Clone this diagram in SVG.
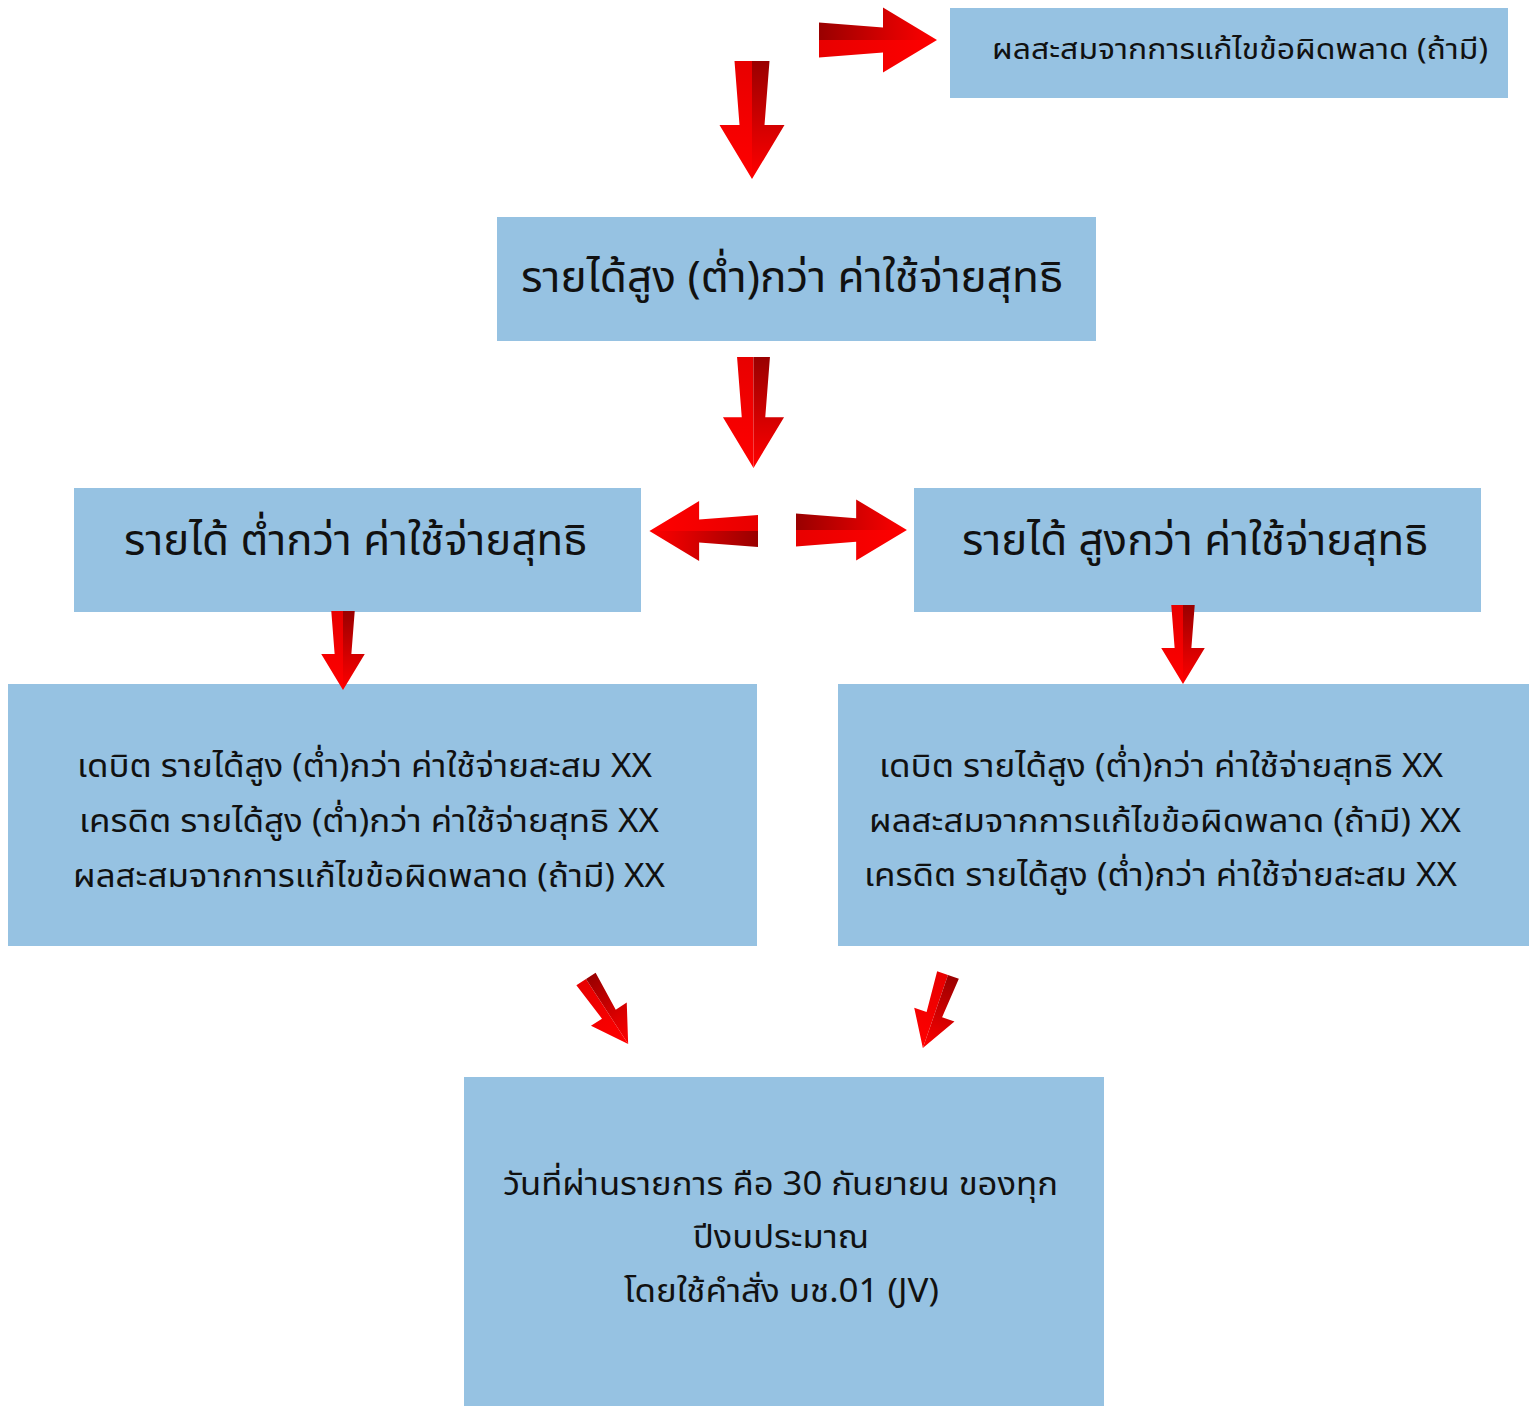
<svg xmlns="http://www.w3.org/2000/svg" xmlns:xlink="http://www.w3.org/1999/xlink" width="1532" height="1406" viewBox="0 0 1532 1406">
<style>
.box{fill:#96c2e2;}
.t{font-family:"Noto Sans Thai","Noto Sans","DejaVu Sans",sans-serif;fill:#111111;text-anchor:middle;}
.s27{font-size:29px;}
.s30{font-size:32px;}
.s40{font-size:43px;}
</style>
<defs>
<linearGradient id="dark" x1="0" y1="0" x2="0" y2="1">
<stop offset="0" stop-color="#990000"/>
<stop offset="0.6" stop-color="#d80000"/>
<stop offset="1" stop-color="#ff0000"/>
</linearGradient>
<linearGradient id="bright" x1="0" y1="0" x2="0" y2="1">
<stop offset="0" stop-color="#e80000"/>
<stop offset="1" stop-color="#ff0000"/>
</linearGradient>
<g id="arrow">
<polygon points="-17.5,0 0,0 0,118 -32.5,64 -12.5,64" fill="url(#bright)"/>
<polygon points="0,0 17.5,0 12.5,64 32.5,64 0,118" fill="url(#dark)"/>
</g>
</defs>
<rect width="1532" height="1406" fill="#ffffff"/>
<g id="node-top">
<rect class="box" x="950" y="8" width="558" height="90"/>
<text class="t s27" x="1240" y="59" textLength="496" lengthAdjust="spacingAndGlyphs">ผลสะสมจากการแก้ไขข้อผิดพลาด (ถ้ามี)</text>
</g>
<g id="node-main">
<rect class="box" x="497" y="217" width="599" height="124"/>
<text class="t s40" x="792" y="292" textLength="542" lengthAdjust="spacingAndGlyphs">รายได้สูง (ต่ำ)กว่า ค่าใช้จ่ายสุทธิ</text>
</g>
<g id="node-lower">
<rect class="box" x="74" y="488" width="567" height="124"/>
<text class="t s40" x="355.5" y="555" textLength="463" lengthAdjust="spacingAndGlyphs">รายได้ ต่ำกว่า ค่าใช้จ่ายสุทธิ</text>
</g>
<g id="node-higher">
<rect class="box" x="914" y="488" width="567" height="124"/>
<text class="t s40" x="1195" y="555" textLength="466" lengthAdjust="spacingAndGlyphs">รายได้ สูงกว่า ค่าใช้จ่ายสุทธิ</text>
</g>
<g id="node-lower-entry">
<rect class="box" x="8" y="684" width="749" height="262"/>
<text class="t s30" x="364.5" y="777" textLength="575" lengthAdjust="spacingAndGlyphs">เดบิต รายได้สูง (ต่ำ)กว่า ค่าใช้จ่ายสะสม XX</text>
<text class="t s30" x="369" y="832" textLength="580" lengthAdjust="spacingAndGlyphs">เครดิต รายได้สูง (ต่ำ)กว่า ค่าใช้จ่ายสุทธิ XX</text>
<text class="t s30" x="369" y="887" textLength="592" lengthAdjust="spacingAndGlyphs">ผลสะสมจากการแก้ไขข้อผิดพลาด (ถ้ามี) XX</text>
</g>
<g id="node-higher-entry">
<rect class="box" x="838" y="684" width="691" height="262"/>
<text class="t s30" x="1161" y="777" textLength="564" lengthAdjust="spacingAndGlyphs">เดบิต รายได้สูง (ต่ำ)กว่า ค่าใช้จ่ายสุทธิ XX</text>
<text class="t s30" x="1165" y="832" textLength="592" lengthAdjust="spacingAndGlyphs">ผลสะสมจากการแก้ไขข้อผิดพลาด (ถ้ามี) XX</text>
<text class="t s30" x="1160.5" y="886" textLength="593" lengthAdjust="spacingAndGlyphs">เครดิต รายได้สูง (ต่ำ)กว่า ค่าใช้จ่ายสะสม XX</text>
</g>
<g id="node-date">
<rect class="box" x="464" y="1077" width="640" height="329"/>
<text class="t s30" x="780.5" y="1195" textLength="555" lengthAdjust="spacingAndGlyphs">วันที่ผ่านรายการ คือ 30 กันยายน ของทุก</text>
<text class="t s30" x="781" y="1248" textLength="176" lengthAdjust="spacingAndGlyphs">ปีงบประมาณ</text>
<text class="t s30" x="781.5" y="1302" textLength="315" lengthAdjust="spacingAndGlyphs">โดยใช้คำสั่ง บช.01 (JV)</text>
</g>
<g id="connectors">
<use xlink:href="#arrow" transform="translate(752,61)"/>
<use xlink:href="#arrow" transform="translate(819,40) rotate(-90)"/>
<use xlink:href="#arrow" transform="translate(753.5,357) scale(0.94)"/>
<use xlink:href="#arrow" transform="translate(758,531) rotate(90) scale(0.92)"/>
<use xlink:href="#arrow" transform="translate(796,530) rotate(-90) scale(0.94)"/>
<use xlink:href="#arrow" transform="translate(343,611) scale(0.67)"/>
<use xlink:href="#arrow" transform="translate(1183,605) scale(0.67)"/>
<use xlink:href="#arrow" transform="translate(586,979) rotate(-33) scale(0.656)"/>
<use xlink:href="#arrow" transform="translate(948,975) rotate(19) scale(0.655)"/>
</g>
</svg>
